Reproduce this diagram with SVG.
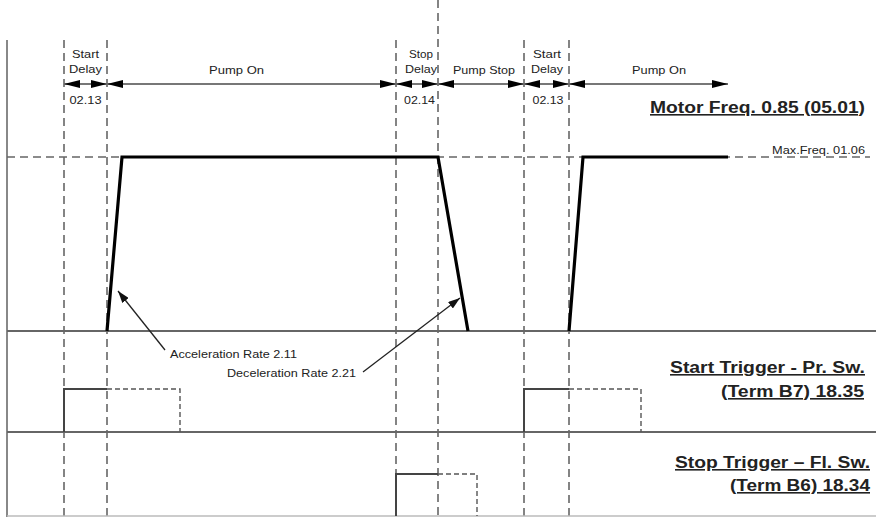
<svg xmlns="http://www.w3.org/2000/svg" width="876" height="517" viewBox="0 0 876 517">
<style>
.bg{fill:#fff}
.dash{stroke:#666;stroke-width:1.6;stroke-dasharray:8 5;fill:none}
.dashs{stroke:#555;stroke-width:1.4;stroke-dasharray:5 3;fill:none}
.base{stroke:#666;stroke-width:2;fill:none}
.wave{stroke:#000;stroke-width:3.2;fill:none;stroke-linejoin:miter}
.pulse{stroke:#444;stroke-width:2;fill:none}
.dim{stroke:#777;stroke-width:2;fill:none;marker-start:url(#ah);marker-end:url(#ah)}
.lead{stroke:#222;stroke-width:1.3;fill:none;marker-end:url(#lh)}
.s{font-family:"Liberation Sans",Arial,sans-serif;font-size:11.5px;fill:#222}
.b{font-family:"Liberation Sans",Arial,sans-serif;font-size:16px;font-weight:bold;fill:#222;text-decoration:underline}
</style>
<defs>
<marker id="ah" viewBox="0 0 16 8" refX="16" refY="4" markerWidth="16" markerHeight="8" markerUnits="userSpaceOnUse" orient="auto-start-reverse">
<path d="M0,0 L16,4 L0,8 z" fill="#000"/>
</marker>
<marker id="lh" viewBox="0 0 12 8" refX="12" refY="4" markerWidth="12" markerHeight="8" markerUnits="userSpaceOnUse" orient="auto">
<path d="M0,0 L12,4 L0,8 z" fill="#111"/>
</marker>
</defs>
<rect class="bg" width="876" height="517"/>

<g id="grid">
<line x1="7" y1="40" x2="7" y2="517" stroke="#888" stroke-width="2"/>
<line class="dash" x1="64" y1="40" x2="64" y2="517"/>
<line class="dash" x1="107" y1="40" x2="107" y2="517"/>
<line class="dash" x1="396" y1="40" x2="396" y2="517"/>
<line class="dash" x1="438" y1="0" x2="438" y2="517"/>
<line class="dash" x1="524" y1="40" x2="524" y2="517"/>
<line class="dash" x1="569" y1="40" x2="569" y2="517"/>
<line class="dash" x1="7" y1="157" x2="870" y2="157"/>
<line class="base" x1="7" y1="331" x2="876" y2="331"/>
<line class="base" x1="7" y1="432" x2="876" y2="432"/>
<line x1="7" y1="516" x2="876" y2="516" stroke="#bbb" stroke-width="1.5"/>
</g>

<g id="connectors">
<line class="dim" x1="64" y1="84" x2="107" y2="84"/>
<line class="dim" x1="107" y1="84" x2="396" y2="84"/>
<line class="dim" x1="396" y1="84" x2="438" y2="84"/>
<line class="dim" x1="438" y1="84" x2="524" y2="84"/>
<line class="dim" x1="524" y1="84" x2="569" y2="84"/>
<line class="dim" x1="569" y1="84" x2="728" y2="84"/>
<line class="lead" x1="165" y1="350" x2="118" y2="291"/>
<line class="lead" x1="363" y1="372" x2="460" y2="298"/>
</g>

<g id="motor-wave">
<polyline class="wave" points="107,331 122,157 438,157 468,331"/>
<polyline class="wave" points="569,331 583,157 728,157"/>
</g>

<g id="start-trigger">
<polyline class="pulse" points="64,432 64,389 107,389"/>
<polyline class="dashs" points="107,389 180,389 180,432"/>
<polyline class="pulse" points="524,432 524,389 569,389"/>
<polyline class="dashs" points="569,389 641,389 641,432"/>
</g>

<g id="stop-trigger">
<polyline class="pulse" points="396,516 396,474 438,474"/>
<polyline class="dashs" points="438,474 477,474 477,516"/>
</g>

<g id="labels">
<text class="s" x="85.5" y="58" text-anchor="middle" textLength="27" lengthAdjust="spacingAndGlyphs">Start</text>
<text class="s" x="85.5" y="73" text-anchor="middle" textLength="33" lengthAdjust="spacingAndGlyphs">Delay</text>
<text class="s" x="85.5" y="104" text-anchor="middle" textLength="32" lengthAdjust="spacingAndGlyphs">02.13</text>
<text class="s" x="236.5" y="74" text-anchor="middle" textLength="55" lengthAdjust="spacingAndGlyphs">Pump On</text>
<text class="s" x="421" y="58" text-anchor="middle" textLength="24" lengthAdjust="spacingAndGlyphs">Stop</text>
<text class="s" x="421" y="73" text-anchor="middle" textLength="32" lengthAdjust="spacingAndGlyphs">Delay</text>
<text class="s" x="419.5" y="104" text-anchor="middle" textLength="31" lengthAdjust="spacingAndGlyphs">02.14</text>
<text class="s" x="484" y="74" text-anchor="middle" textLength="62" lengthAdjust="spacingAndGlyphs">Pump Stop</text>
<text class="s" x="547" y="58" text-anchor="middle" textLength="28" lengthAdjust="spacingAndGlyphs">Start</text>
<text class="s" x="547" y="73" text-anchor="middle" textLength="32" lengthAdjust="spacingAndGlyphs">Delay</text>
<text class="s" x="548" y="104" text-anchor="middle" textLength="31" lengthAdjust="spacingAndGlyphs">02.13</text>
<text class="s" x="659" y="74" text-anchor="middle" textLength="54" lengthAdjust="spacingAndGlyphs">Pump On</text>
<text class="s" x="772" y="154" textLength="93" lengthAdjust="spacingAndGlyphs">Max.Freq. 01.06</text>
<text class="s" x="170" y="358" textLength="127" lengthAdjust="spacingAndGlyphs">Acceleration Rate 2.11</text>
<text class="s" x="227" y="377" textLength="129" lengthAdjust="spacingAndGlyphs">Deceleration Rate 2.21</text>
<text class="b" x="650" y="113" textLength="215" lengthAdjust="spacingAndGlyphs">Motor Freq. 0.85 (05.01)</text>
<text class="b" x="670" y="373" textLength="195" lengthAdjust="spacingAndGlyphs">Start Trigger - Pr. Sw.</text>
<text class="b" x="721" y="397" textLength="143" lengthAdjust="spacingAndGlyphs">(Term B7) 18.35</text>
<text class="b" x="675" y="468" textLength="195" lengthAdjust="spacingAndGlyphs">Stop Trigger – Fl. Sw.</text>
<text class="b" x="730" y="491" textLength="140" lengthAdjust="spacingAndGlyphs">(Term B6) 18.34</text>
</g>
</svg>
